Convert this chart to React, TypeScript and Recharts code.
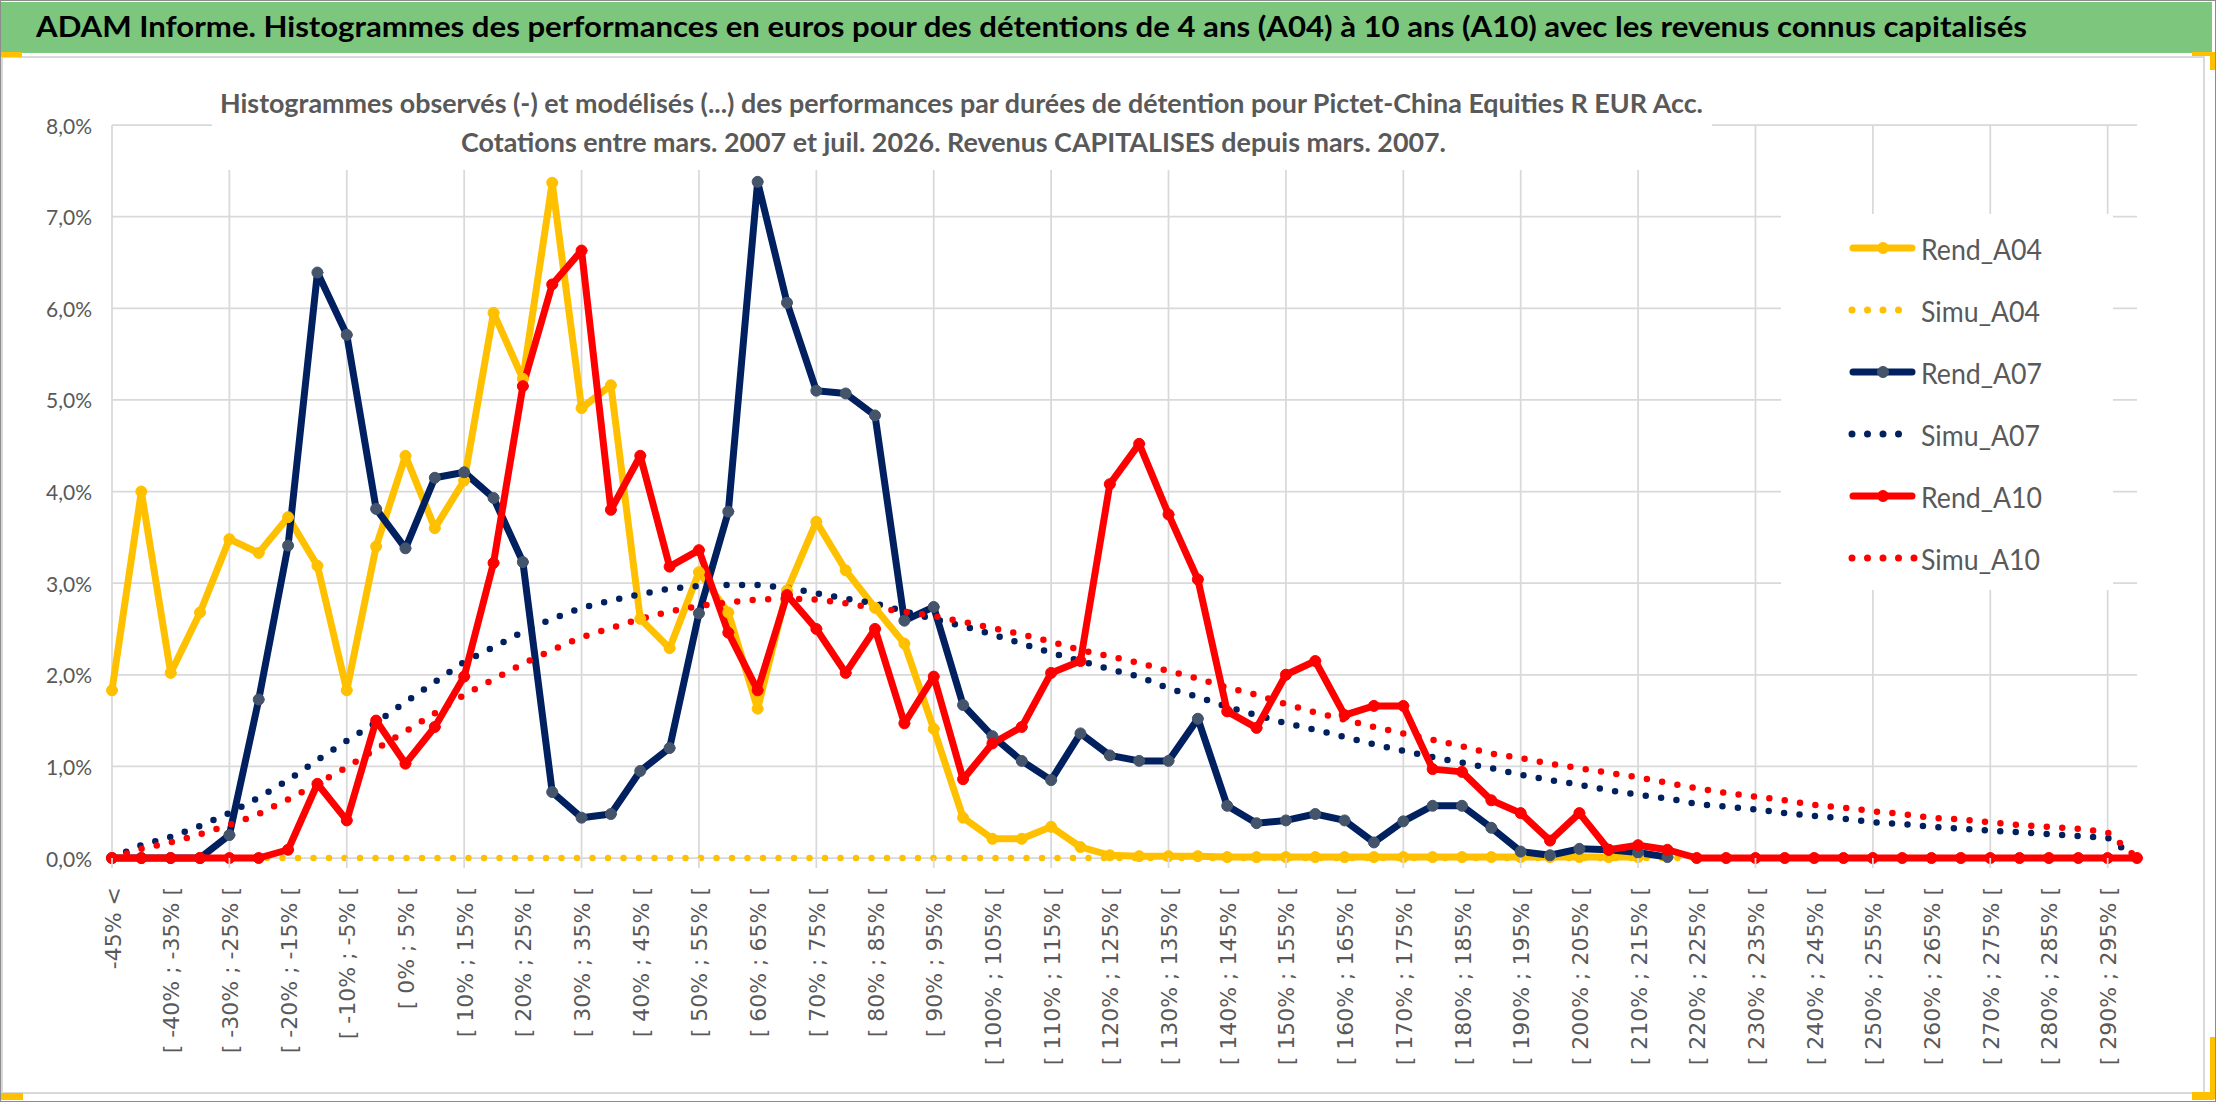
import React from 'react';
import { LineChart, Line, XAxis, YAxis, CartesianGrid, Legend } from 'recharts';

const categories = [
  '-45% <', '[ -45% ; -40% [', '[ -40% ; -35% [', '[ -35% ; -30% [', '[ -30% ; -25% [',
  '[ -25% ; -20% [', '[ -20% ; -15% [', '[ -15% ; -10% [', '[ -10% ; -5% [', '[ -5% ; 0% [',
  '[ 0% ; 5% [', '[ 5% ; 10% [', '[ 10% ; 15% [', '[ 15% ; 20% [', '[ 20% ; 25% [',
  '[ 25% ; 30% [', '[ 30% ; 35% [', '[ 35% ; 40% [', '[ 40% ; 45% [', '[ 45% ; 50% [',
  '[ 50% ; 55% [', '[ 55% ; 60% [', '[ 60% ; 65% [', '[ 65% ; 70% [', '[ 70% ; 75% [',
  '[ 75% ; 80% [', '[ 80% ; 85% [', '[ 85% ; 90% [', '[ 90% ; 95% [', '[ 95% ; 100% [',
  '[ 100% ; 105% [', '[ 105% ; 110% [', '[ 110% ; 115% [', '[ 115% ; 120% [', '[ 120% ; 125% [',
  '[ 125% ; 130% [', '[ 130% ; 135% [', '[ 135% ; 140% [', '[ 140% ; 145% [', '[ 145% ; 150% [',
  '[ 150% ; 155% [', '[ 155% ; 160% [', '[ 160% ; 165% [', '[ 165% ; 170% [', '[ 170% ; 175% [',
  '[ 175% ; 180% [', '[ 180% ; 185% [', '[ 185% ; 190% [', '[ 190% ; 195% [', '[ 195% ; 200% [',
  '[ 200% ; 205% [', '[ 205% ; 210% [', '[ 210% ; 215% [', '[ 215% ; 220% [', '[ 220% ; 225% [',
  '[ 225% ; 230% [', '[ 230% ; 235% [', '[ 235% ; 240% [', '[ 240% ; 245% [', '[ 245% ; 250% [',
  '[ 250% ; 255% [', '[ 255% ; 260% [', '[ 260% ; 265% [', '[ 265% ; 270% [', '[ 270% ; 275% [',
  '[ 275% ; 280% [', '[ 280% ; 285% [', '[ 285% ; 290% [', '[ 290% ; 295% [', '> 295%',
];

// values in percent
const rendA04 = [
  1.83, 4.00, 2.02, 2.68, 3.48, 3.33, 3.72, 3.19, 1.83, 3.40,
  4.39, 3.60, 4.12, 5.95, 5.23, 7.37, 4.91, 5.16, 2.61, 2.29,
  3.12, 2.68, 1.63, 2.92, 3.67, 3.14, 2.73, 2.34, 1.41, 0.44,
  0.21, 0.21, 0.34, 0.12, 0.03, 0.02, 0.02, 0.02, 0.01, 0.01,
  0.01, 0.01, 0.01, 0.01, 0.01, 0.01, 0.01, 0.01, 0.01, 0.01,
  0.01, 0.01, 0.01,
];

const simuA04 = [
  0, 0, 0, 0, 0, 0, 0, 0, 0, 0,
  0, 0, 0, 0, 0, 0, 0, 0, 0, 0,
  0, 0, 0, 0, 0, 0, 0, 0, 0, 0,
  0, 0, 0, 0, 0, 0, 0, 0, 0, 0,
  0, 0, 0, 0, 0, 0, 0, 0, 0, 0,
  0, 0, 0, 0, 0, 0, 0, 0, 0, 0,
  0, 0, 0, 0, 0, 0, 0, 0, 0, 0,
];

const rendA07 = [
  0, 0, 0, 0, 0.25, 1.73, 3.41, 6.39, 5.71, 3.81,
  3.38, 4.15, 4.21, 3.93, 3.23, 0.72, 0.44, 0.48, 0.95, 1.20,
  2.67, 3.78, 7.38, 6.06, 5.10, 5.07, 4.83, 2.59, 2.74, 1.67,
  1.33, 1.06, 0.85, 1.36, 1.12, 1.06, 1.06, 1.52, 0.57, 0.38,
  0.41, 0.48, 0.41, 0.17, 0.40, 0.57, 0.57, 0.33, 0.07, 0.03,
  0.10, 0.09, 0.06, 0.01,
];

const simuA07 = [
  0.00, 0.14, 0.23, 0.35, 0.49, 0.66, 0.85, 1.07, 1.28, 1.48,
  1.70, 1.92, 2.14, 2.30, 2.47, 2.61, 2.73, 2.81, 2.88, 2.94,
  2.97, 2.98, 2.98, 2.95, 2.89, 2.83, 2.78, 2.69, 2.61, 2.53,
  2.44, 2.34, 2.24, 2.15, 2.06, 1.98, 1.85, 1.76, 1.65, 1.56,
  1.47, 1.40, 1.32, 1.24, 1.17, 1.10, 1.04, 0.98, 0.91, 0.85,
  0.80, 0.74, 0.69, 0.65, 0.59, 0.56, 0.53, 0.49, 0.46, 0.43,
  0.39, 0.37, 0.34, 0.32, 0.30, 0.28, 0.26, 0.24, 0.22, 0.00,
];

const rendA10 = [
  0, 0, 0, 0, 0, 0, 0.09, 0.81, 0.41, 1.50,
  1.03, 1.43, 1.98, 3.22, 5.15, 6.26, 6.63, 3.80, 4.39, 3.18,
  3.36, 2.46, 1.83, 2.87, 2.50, 2.02, 2.50, 1.47, 1.98, 0.86,
  1.25, 1.43, 2.02, 2.15, 4.08, 4.52, 3.75, 3.04, 1.60, 1.42,
  2.00, 2.15, 1.56, 1.66, 1.66, 0.97, 0.94, 0.63, 0.49, 0.19,
  0.49, 0.09, 0.14, 0.09, 0, 0, 0, 0, 0, 0,
  0, 0, 0, 0, 0, 0, 0, 0, 0, 0,
];

const simuA10 = [
  0.00, 0.10, 0.17, 0.26, 0.36, 0.48, 0.64, 0.81, 0.99, 1.19,
  1.38, 1.58, 1.78, 1.95, 2.12, 2.27, 2.41, 2.51, 2.61, 2.69,
  2.75, 2.79, 2.82, 2.83, 2.82, 2.78, 2.73, 2.69, 2.64, 2.58,
  2.51, 2.44, 2.36, 2.27, 2.20, 2.13, 2.04, 1.96, 1.86, 1.78,
  1.68, 1.59, 1.51, 1.43, 1.36, 1.29, 1.22, 1.14, 1.09, 1.03,
  0.98, 0.93, 0.88, 0.82, 0.76, 0.71, 0.67, 0.63, 0.58, 0.55,
  0.51, 0.48, 0.44, 0.42, 0.39, 0.36, 0.34, 0.32, 0.28, 0.00,
];

const seriesOrder = ['Rend_A04', 'Simu_A04', 'Rend_A07', 'Simu_A07', 'Rend_A10', 'Simu_A10'];

const yTicks = [0, 1, 2, 3, 4, 5, 6, 7, 8];
const yTickLabels = ['0,0%', '1,0%', '2,0%', '3,0%', '4,0%', '5,0%', '6,0%', '7,0%', '8,0%'];

const titleText = 'ADAM Informe. Histogrammes des performances en euros pour des détentions de 4 ans (A04) à 10 ans (A10) avec les revenus connus capitalisés';
const subtitleLine1 = 'Histogrammes observés (-) et modélisés (...) des performances par durées de détention pour Pictet-China Equities R EUR Acc.';
const subtitleLine2 = 'Cotations entre mars. 2007 et juil. 2026. Revenus CAPITALISES depuis mars. 2007.';

const YELLOW = '#FFC000';
const NAVY = '#002060';
const SLATE = '#44546A';
const RED = '#FF0000';
const GRID = '#d9d9d9';
const TEXT = '#595959';

const data = categories.map((cat, i) => ({
  cat,
  Rend_A04: rendA04[i] ?? null,
  Simu_A04: simuA04[i] ?? null,
  Rend_A07: rendA07[i] ?? null,
  Simu_A07: simuA07[i] ?? null,
  Rend_A10: rendA10[i] ?? null,
  Simu_A10: simuA10[i] ?? null,
}));

const gridCategories = categories.filter((_, i) => i % 4 === 0);

const seriesStyle: Record<string, any> = {
  Rend_A04: { color: YELLOW, marker: YELLOW, dotted: false, textLen: 121 },
  Simu_A04: { color: YELLOW, dotted: true, dots: 4, textLen: 119 },
  Rend_A07: { color: NAVY, marker: SLATE, dotted: false, textLen: 121 },
  Simu_A07: { color: NAVY, dotted: true, dots: 4, textLen: 119 },
  Rend_A10: { color: RED, marker: RED, dotted: false, textLen: 121 },
  Simu_A10: { color: RED, dotted: true, dots: 5, textLen: 119 },
};

const XTick = (props: any) => {
  const { x, y, payload } = props;
  const idx = categories.indexOf(payload.value);
  const ty = y + 29;
  return (
    <g>
      {idx % 4 === 0 && <line x1={x} y1={y} x2={x} y2={y + 10} stroke={GRID} strokeWidth={1.75} />}
      <text
        x={x + 1}
        y={ty}
        transform={`rotate(-90, ${x + 1}, ${ty})`}
        textAnchor="end"
        dominantBaseline="central"
        fontFamily="'DejaVu Sans', Verdana, sans-serif"
        fontSize={22}
        fill={TEXT}
      >
        {payload.value}
      </text>
    </g>
  );
};

const YTick = (props: any) => {
  const { x, y, payload } = props;
  return (
    <text x={x} y={y} textAnchor="end" dominantBaseline="central" fontFamily="Lato, sans-serif" fontSize={21} fill={TEXT}>
      {yTickLabels[yTicks.indexOf(payload.value)]}
    </text>
  );
};

const LegendContent = (props: any) => {
  const payload = [...(props.payload || [])].sort(
    (a: any, b: any) => seriesOrder.indexOf(a.dataKey ?? a.value) - seriesOrder.indexOf(b.dataKey ?? b.value)
  );
  return (
    <svg width={332} height={376} style={{ display: 'block' }}>
      {payload.map((p: any, i: number) => {
        const key = p.dataKey ?? p.value;
        const s = seriesStyle[key] || seriesStyle.Rend_A04;
        const cy = 34 + i * 62;
        return (
          <g key={key}>
            {s.dotted ? (
              <line
                x1={71}
                y1={cy}
                x2={71 + (s.dots - 1) * 15.5 + 0.1}
                y2={cy}
                stroke={s.color}
                strokeWidth={7}
                strokeDasharray="0 15.5"
                strokeLinecap="round"
              />
            ) : (
              <g>
                <line x1={72} y1={cy} x2={131} y2={cy} stroke={s.color} strokeWidth={7} strokeLinecap="round" />
                <circle cx={102} cy={cy} r={5.5} fill={s.marker} stroke={s.marker} strokeWidth={1} />
              </g>
            )}
            <text
              x={140}
              y={cy}
              dominantBaseline="central"
              fontFamily="Lato, sans-serif"
              fontSize={29}
              fill={TEXT}
              textLength={s.textLen}
              lengthAdjust="spacingAndGlyphs"
            >
              {p.value}
            </text>
          </g>
        );
      })}
    </svg>
  );
};

const mapWithScale = (sc: any, v: any) => {
  try {
    if (typeof sc === 'function') return sc(v);
    if (sc && typeof sc.map === 'function') return sc.map(v);
    if (sc && typeof sc.scale === 'function') return sc.scale(v);
  } catch (e) {
    return undefined;
  }
  return undefined;
};

const verticalGen = (args: any) => {
  const sc = args && args.xAxis && args.xAxis.scale;
  let coords = gridCategories.map((c) => mapWithScale(sc, c));
  if (coords.some((v: any) => typeof v !== 'number' || isNaN(v))) {
    const off = args.offset;
    const n = categories.length;
    coords = gridCategories.map((c) => off.left + (categories.indexOf(c) / (n - 1)) * off.width);
  }
  return coords;
};

const solidLine = (key: string) => {
  const s = seriesStyle[key];
  return (
    <Line
      key={key}
      type="linear"
      dataKey={key}
      stroke={s.color}
      strokeWidth={7}
      strokeLinejoin="round"
      strokeLinecap="round"
      dot={{ r: 5.5, fill: s.marker, stroke: s.marker, strokeWidth: 1 }}
      activeDot={false}
      connectNulls={false}
      isAnimationActive={false}
    />
  );
};

const dottedLine = (key: string) => {
  const s = seriesStyle[key];
  return (
    <Line
      key={key}
      type="linear"
      dataKey={key}
      stroke={s.color}
      strokeWidth={6.5}
      strokeDasharray="0 15.5"
      strokeLinecap="round"
      dot={false}
      activeDot={false}
      isAnimationActive={false}
    />
  );
};

export default function App() {
  return (
    <div style={{ position: 'absolute', left: 0, top: 0, width: 2216, height: 1102, background: '#fff', overflow: 'hidden' }}>
      {/* chart frame */}
      <div style={{ position: 'absolute', left: 1, top: 56, width: 2204, height: 1038, border: `2px solid ${GRID}`, boxSizing: 'border-box' }} />

      <LineChart
        width={2216}
        height={1102}
        data={data}
        margin={{ top: 125, right: 79, left: 12, bottom: 14 }}
        style={{ position: 'absolute', left: 0, top: 0 }}
      >
        <CartesianGrid stroke={GRID} strokeWidth={1.75} horizontal vertical verticalCoordinatesGenerator={verticalGen} />
        <XAxis
          dataKey="cat"
          interval={1}
          tickSize={0}
          tickMargin={0}
          axisLine={false}
          tickLine={false}
          height={230}
          tick={<XTick />}
        />
        <YAxis
          domain={[0, 8]}
          ticks={yTicks}
          tickSize={0}
          tickMargin={20}
          axisLine={false}
          tickLine={false}
          width={100}
          tick={<YTick />}
        />
        <Legend
          layout="vertical"
          align="center"
          verticalAlign="middle"
          content={<LegendContent />}
          wrapperStyle={{ position: 'absolute', left: 1781, top: 214, width: 332, height: 376, background: '#fff' }}
        />
        {solidLine('Rend_A04')}
        {dottedLine('Simu_A04')}
        {solidLine('Rend_A07')}
        {dottedLine('Simu_A07')}
        {solidLine('Rend_A10')}
        {dottedLine('Simu_A10')}
      </LineChart>

      {/* subtitle box */}
      <div style={{ position: 'absolute', left: 212, top: 60, width: 1500, height: 110, background: '#fff' }}>
        <svg width={1500} height={110} style={{ display: 'block' }}>
          <text x={220 - 212} y={113 - 60} fontFamily="Lato, sans-serif" fontWeight={700} fontSize={27} fill={TEXT} textLength={1483} lengthAdjust="spacingAndGlyphs">
            {subtitleLine1}
          </text>
          <text x={461 - 212} y={152 - 60} fontFamily="Lato, sans-serif" fontWeight={700} fontSize={27} fill={TEXT} textLength={985} lengthAdjust="spacingAndGlyphs">
            {subtitleLine2}
          </text>
        </svg>
      </div>

      {/* title banner */}
      <div style={{ position: 'absolute', left: 0, top: 2, width: 2212, height: 51, background: '#7DC67D' }}>
        <svg width={2212} height={51} style={{ display: 'block' }}>
          <text x={36} y={35} fontFamily="Lato, sans-serif" fontWeight={700} fontSize={29} fill="#000" textLength={1991} lengthAdjust="spacingAndGlyphs">
            {titleText}
          </text>
        </svg>
      </div>

      {/* selection handles */}
      <div style={{ position: 'absolute', left: 0, top: 52, width: 22, height: 5, background: YELLOW }} />
      <div style={{ position: 'absolute', left: 2192, top: 52, width: 22, height: 4, background: YELLOW }} />
      <div style={{ position: 'absolute', left: 2210, top: 52, width: 6, height: 18, background: YELLOW }} />
      <div style={{ position: 'absolute', left: 0, top: 1093, width: 23, height: 7, background: YELLOW }} />
      <div style={{ position: 'absolute', left: 2192, top: 1092, width: 22, height: 8, background: YELLOW }} />
      <div style={{ position: 'absolute', left: 2210, top: 1037, width: 6, height: 62, background: YELLOW }} />

      {/* outer border */}
      <div style={{ position: 'absolute', left: 0, top: 0, width: 2216, height: 1102, border: '1px solid #8c8c8c', boxSizing: 'border-box', pointerEvents: 'none' }} />
    </div>
  );
}
